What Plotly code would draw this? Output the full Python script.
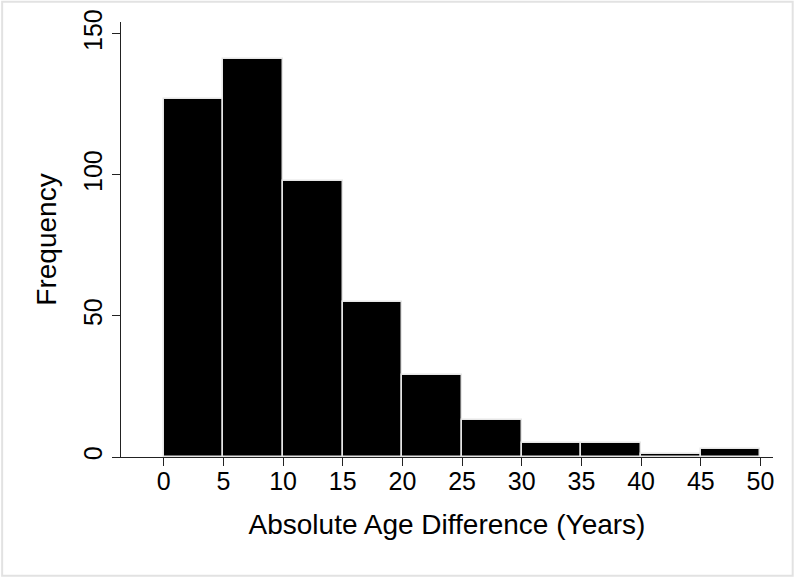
import plotly.graph_objects as go

bin_starts = [0, 5, 10, 15, 20, 25, 30, 35, 40, 45]
bin_width = 5
counts = [127, 141, 98, 55, 29, 13, 5, 5, 1, 3]
x_ticks = [0, 5, 10, 15, 20, 25, 30, 35, 40, 45, 50]
y_ticks = [0, 50, 100, 150]
x_title = "Absolute Age Difference (Years)"
y_title = "Frequency"

W, H = 796, 578
L, R, T, B = 120.5, 22.7, 21.7, 120.5
pw, ph = W - L - R, H - T - B

def px_x(p):
    return (p - L) / pw

def px_y(p):
    return 1 - (p - T) / ph

font = "Liberation Sans, Arial, sans-serif"
axis_col = "#222222"

fig = go.Figure()
fig.add_trace(go.Bar(
    x=bin_starts, y=counts, width=bin_width, offset=0,
    marker=dict(color="black", line=dict(color="#e6e6e6", width=1.5)),
    showlegend=False,
))

fig.update_layout(
    width=W, height=H,
    margin=dict(l=L, r=R, t=T, b=B, pad=0, autoexpand=False),
    plot_bgcolor="white", paper_bgcolor="white",
    font=dict(family=font, size=25, color="black"),
    bargap=0,
    xaxis=dict(
        range=[-3.58, 51.05], tickvals=x_ticks, ticktext=[str(v) for v in x_ticks],
        ticks="outside", ticklen=8, tickwidth=1.3, tickcolor=axis_col,
        showline=True, linecolor=axis_col, linewidth=1.3, showgrid=False, zeroline=False,
        tickfont=dict(size=25), automargin=False, ticklabelstandoff=-6,
        title=dict(text=x_title, font=dict(size=28), standoff=20),
    ),
    yaxis=dict(
        range=[0, 154.2], tickvals=y_ticks, ticktext=[str(v) for v in y_ticks],
        ticks="outside", ticklen=8, tickwidth=1.3, tickcolor=axis_col, tickangle=-90,
        showline=True, linecolor=axis_col, linewidth=1.3, showgrid=False, zeroline=False,
        tickfont=dict(size=25), automargin=False,
        title=dict(text=y_title, font=dict(size=28), standoff=14),
    ),
)

# outer frame of the graph region
fig.add_shape(type="rect", xref="paper", yref="paper",
              x0=px_x(1.5), x1=px_x(793), y0=px_y(1.5), y1=px_y(576.5),
              line=dict(color="#e2e2e2", width=2), layer="below")

fig.write_html("out.html",
               config={"displayModeBar": False},
               post_script="document.body.style.margin='0';document.body.style.padding='0';")
